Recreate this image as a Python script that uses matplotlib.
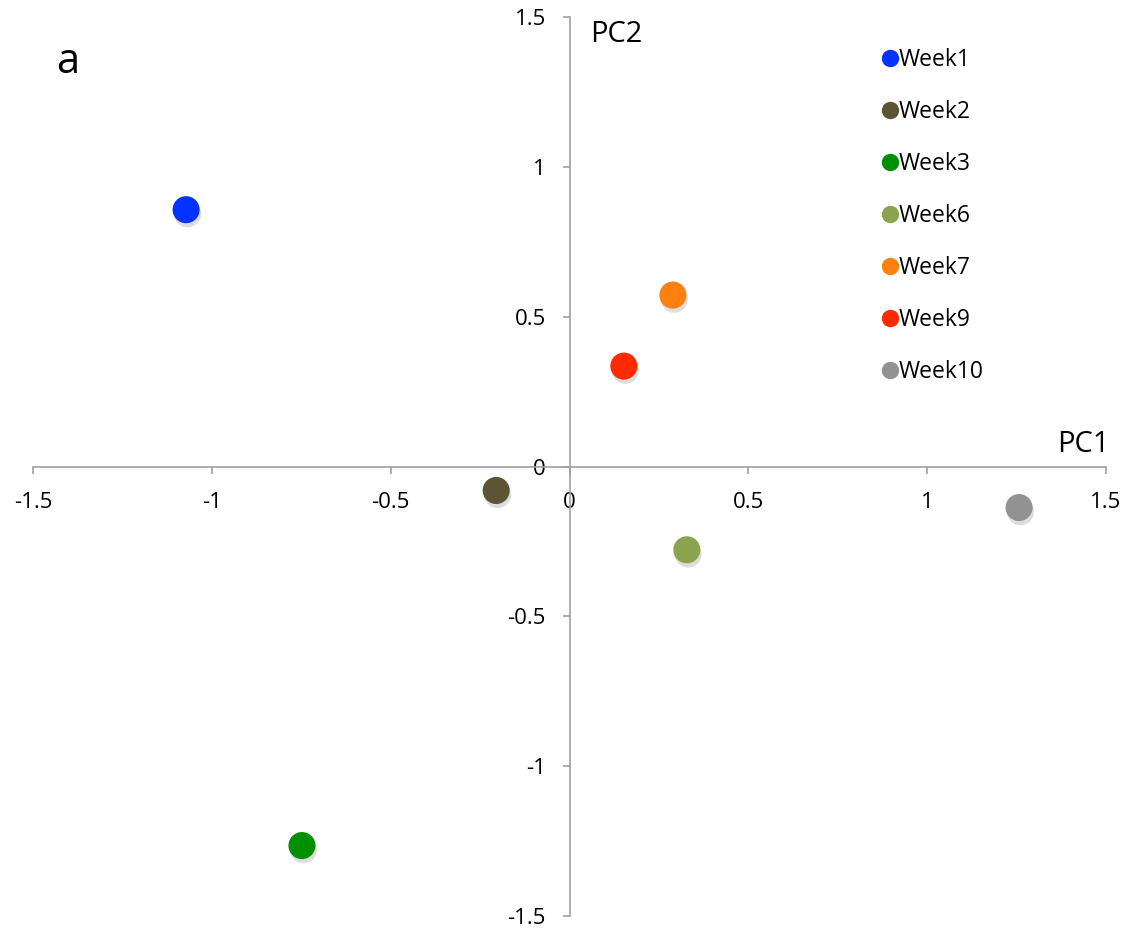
import matplotlib
matplotlib.use("Agg")
import matplotlib.pyplot as plt
from matplotlib import patheffects as pe
from matplotlib.lines import Line2D

plt.rcParams['font.family'] = ['Open Sans', 'DejaVu Sans']

weeks = ["Week1", "Week2", "Week3", "Week6", "Week7", "Week9", "Week10"]
pc1 = [-1.072, -0.205, -0.748, 0.328, 0.289, 0.152, 1.257]
pc2 = [0.857, -0.080, -1.265, -0.278, 0.572, 0.335, -0.137]
colors = ["#0433FF", "#5C5435", "#008F00", "#8AA34E", "#FF7F0F", "#FF2A00", "#929292"]
ticks = [-1.5, -1, -0.5, 0, 0.5, 1, 1.5]
tick_labels = ["-1.5", "-1", "-0.5", "0", "0.5", "1", "1.5"]

W, H = 1130, 933
fig = plt.figure(figsize=(W / 100, H / 100), dpi=100)
ax = fig.add_axes([33 / W, 17 / H, (1106 - 33) / W, (916 - 17) / H])
ax.set_xlim(-1.5, 1.5)
ax.set_ylim(-1.5, 1.5)

shadow = [pe.SimplePatchShadow(offset=(1, -3), shadow_rgbFace="#909090", alpha=0.3), pe.Normal()]
for x, y, c in zip(pc1, pc2, colors):
    ax.scatter([x], [y], s=380, color=c, edgecolors="none", zorder=3, path_effects=shadow)

for s in ["top", "right"]:
    ax.spines[s].set_visible(False)
ax.spines["left"].set_position(("data", 0))
ax.spines["bottom"].set_position(("data", 0))
for s in ["left", "bottom"]:
    ax.spines[s].set_color("#A0A0A0")
    ax.spines[s].set_linewidth(1.2)

ax.set_xticks(ticks)
ax.set_xticklabels(tick_labels)
ax.set_yticks(ticks)
ax.set_yticklabels(tick_labels)
ax.tick_params(axis="both", direction="out", length=5, width=1.2, color="#A0A0A0",
               labelsize=16, labelcolor="black")
ax.tick_params(axis="x", pad=13)
ax.tick_params(axis="y", pad=12)

ax.text(590 / W, 1 - 35 / H, "PC2", transform=fig.transFigure, fontsize=21, va="center", ha="left")
ax.text(1110 / W, 1 - 445 / H, "PC1", transform=fig.transFigure, fontsize=21, va="center", ha="right")
fig.text(68 / W, 1 - 62 / H, "a", fontsize=30, va="center", ha="center")

handles = [Line2D([], [], marker="o", linestyle="none", markersize=12.5, markerfacecolor=c,
                  markeredgecolor="none") for c in colors]
leg = ax.legend(handles, weeks, loc="upper left", bbox_to_anchor=(872 / W, 1 - 37 / H),
                bbox_transform=fig.transFigure, frameon=False, fontsize=16.5,
                handlelength=0.55, handletextpad=0.12, labelspacing=1.22, borderpad=0)

fig.savefig("out.png", dpi=100, facecolor="white")
